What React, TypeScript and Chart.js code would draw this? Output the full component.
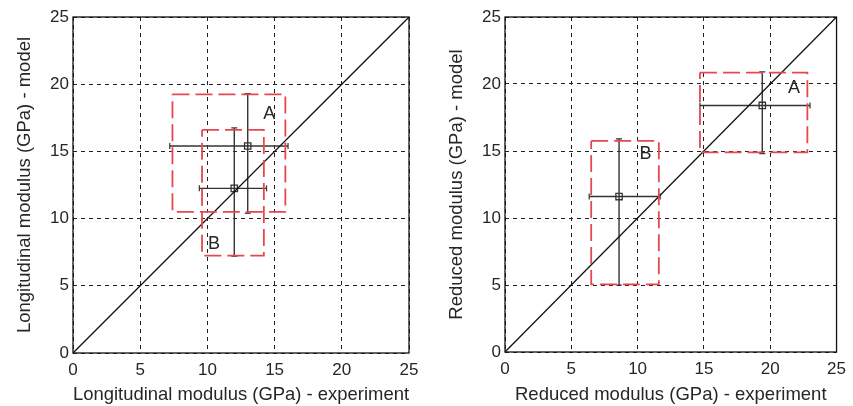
import React, { useEffect, useRef } from 'react';
import { Chart, registerables } from 'chart.js';
Chart.register(...registerables);

// ---- data ----
const axisTicks = [0, 5, 10, 15, 20, 25];
const diagonal = [0, 25];

const groupNames = ['A', 'B'];

// Left panel: Longitudinal modulus
const leftCenterX = [13.0, 12.0];
const leftCenterY = [15.4, 12.25];
const leftXErrLow = [7.2, 9.4];
const leftXErrHigh = [16.0, 14.4];
const leftYErrLow = [10.4, 7.2];
const leftYErrHigh = [19.3, 16.75];
const leftBoxXLow = [7.4, 9.6];
const leftBoxXHigh = [15.8, 14.2];
const leftBoxYLow = [10.5, 7.25];
const leftBoxYHigh = [19.25, 16.6];
const leftLabelX = [14.6, 10.5];
const leftLabelY = [17.8, 8.1];

// Right panel: Reduced modulus
const rightCenterX = [19.4, 8.6];
const rightCenterY = [18.4, 11.6];
const rightXErrLow = [14.7, 6.35];
const rightXErrHigh = [23.0, 11.7];
const rightYErrLow = [14.8, 5.0];
const rightYErrHigh = [20.9, 15.9];
const rightBoxXLow = [14.7, 6.5];
const rightBoxXHigh = [22.8, 11.6];
const rightBoxYLow = [14.9, 5.05];
const rightBoxYHigh = [20.85, 15.75];
const rightLabelX = [21.8, 10.6];
const rightLabelY = [19.7, 14.8];

const FONT = '"Liberation Sans", Arial, sans-serif';
const TEXT = '#262626';
const RED = '#e5484f';

type PanelData = {
  cx: number[]; cy: number[];
  xl: number[]; xh: number[]; yl: number[]; yh: number[];
  bxl: number[]; bxh: number[]; byl: number[]; byh: number[];
  lx: number[]; ly: number[];
};

function buildDatasets(d: PanelData): any[] {
  const ds: any[] = [];
  groupNames.forEach((_, i) => {
    ds.push({
      type: 'line',
      data: [
        { x: d.bxl[i], y: d.byh[i] },
        { x: d.bxh[i], y: d.byh[i] },
        { x: d.bxh[i], y: d.byl[i] },
        { x: d.bxl[i], y: d.byl[i] },
        { x: d.bxl[i], y: d.byh[i] },
      ],
      borderColor: RED,
      borderWidth: 1.8,
      borderDash: [17, 6],
      pointRadius: 0,
      tension: 0,
      fill: false,
    });
  });
  ds.push({
    type: 'line',
    data: [{ x: diagonal[0], y: diagonal[0] }, { x: diagonal[1], y: diagonal[1] }],
    borderColor: '#111',
    borderWidth: 1.3,
    pointRadius: 0,
    fill: false,
  });
  groupNames.forEach((_, i) => {
    ds.push({
      type: 'line',
      data: [{ x: d.xl[i], y: d.cy[i] }, { x: d.xh[i], y: d.cy[i] }],
      borderColor: '#333',
      borderWidth: 1.4,
      pointStyle: 'line',
      pointRotation: 90,
      pointRadius: 3,
      pointBorderColor: '#333',
      pointBorderWidth: 1.2,
      fill: false,
    });
    ds.push({
      type: 'line',
      data: [{ x: d.cx[i], y: d.yl[i] }, { x: d.cx[i], y: d.yh[i] }],
      borderColor: '#333',
      borderWidth: 1.4,
      pointStyle: 'line',
      pointRotation: 0,
      pointRadius: 3,
      pointBorderColor: '#333',
      pointBorderWidth: 1.2,
      fill: false,
    });
  });
  ds.push({
    type: 'scatter',
    data: groupNames.map((_, i) => ({ x: d.cx[i], y: d.cy[i] })),
    pointStyle: 'rect',
    pointRadius: 4.5,
    pointBorderColor: '#333',
    pointBackgroundColor: 'rgba(0,0,0,0)',
    pointBorderWidth: 1.3,
  });
  return ds;
}

type PanelProps = {
  data: PanelData;
  xTitle: string;
  yTitle: string;
  left: number;
  width: number;
  padRight: number;
  yAxisWidth: number;
  xAxisHeight: number;
  yTitlePad: number;
};

function Panel(p: PanelProps) {
  const ref = useRef<HTMLCanvasElement>(null);
  useEffect(() => {
    if (!ref.current) return;
    const d = p.data;
    const frame = {
      id: 'frame',
      beforeDatasetsDraw(chart: any) {
        const { ctx, chartArea: a } = chart;
        ctx.save();
        ctx.strokeStyle = '#111';
        ctx.lineWidth = 1.3;
        ctx.setLineDash([]);
        ctx.strokeRect(a.left, a.top, a.right - a.left, a.bottom - a.top);
        ctx.restore();
      },
    };
    const labels = {
      id: 'groupLabels',
      afterDatasetsDraw(chart: any) {
        const { ctx } = chart;
        const xs = chart.scales.x;
        const ys = chart.scales.y;
        ctx.save();
        ctx.fillStyle = TEXT;
        ctx.font = `18px ${FONT}`;
        ctx.textAlign = 'center';
        ctx.textBaseline = 'middle';
        groupNames.forEach((n, i) => {
          ctx.fillText(n, xs.getPixelForValue(d.lx[i]), ys.getPixelForValue(d.ly[i]));
        });
        ctx.restore();
      },
    };
    const axisCommon = (title: string, isX: boolean) => ({
      type: 'linear',
      min: axisTicks[0],
      max: axisTicks[axisTicks.length - 1],
      afterBuildTicks: (s: any) => {
        s.ticks = axisTicks.map((v) => ({ value: v }));
      },
      ticks: {
        color: TEXT,
        font: { family: FONT, size: 17 },
        padding: isX ? 7 : 4,
        maxRotation: 0,
        autoSkip: false,
      },
      grid: { color: '#222', lineWidth: 1, drawTicks: false },
      border: { display: false, dash: [4, 4] },
      title: {
        display: true,
        text: title,
        color: TEXT,
        font: { family: FONT, size: 18.5 },
        padding: isX ? { top: 0, bottom: 0 } : { top: p.yTitlePad, bottom: 0 },
      },
      afterFit: (s: any) => {
        if (isX) s.height = p.xAxisHeight;
        else s.width = p.yAxisWidth;
      },
    });
    const chart = new Chart(ref.current, {
      type: 'scatter',
      data: { datasets: buildDatasets(d) },
      options: {
        responsive: false,
        animation: false,
        layout: { padding: { left: 0, right: p.padRight, top: 17, bottom: 0 } },
        plugins: { legend: { display: false }, tooltip: { enabled: false } },
        scales: {
          x: axisCommon(p.xTitle, true) as any,
          y: axisCommon(p.yTitle, false) as any,
        },
      },
      plugins: [frame, labels],
    });
    return () => chart.destroy();
  }, []);
  return (
    <canvas
      ref={ref}
      width={p.width}
      height={406}
      style={{ position: 'absolute', left: p.left, top: 0, width: p.width, height: 406 }}
    />
  );
}

export default function App() {
  const leftData: PanelData = {
    cx: leftCenterX, cy: leftCenterY, xl: leftXErrLow, xh: leftXErrHigh,
    yl: leftYErrLow, yh: leftYErrHigh, bxl: leftBoxXLow, bxh: leftBoxXHigh,
    byl: leftBoxYLow, byh: leftBoxYHigh, lx: leftLabelX, ly: leftLabelY,
  };
  const rightData: PanelData = {
    cx: rightCenterX, cy: rightCenterY, xl: rightXErrLow, xh: rightXErrHigh,
    yl: rightYErrLow, yh: rightYErrHigh, bxl: rightBoxXLow, bxh: rightBoxXHigh,
    byl: rightBoxYLow, byh: rightBoxYHigh, lx: rightLabelX, ly: rightLabelY,
  };
  return (
    <div style={{ position: 'fixed', left: 0, top: 0, width: 853, height: 406, background: '#fff', overflow: 'hidden' }}>
      <Panel
        data={leftData}
        xTitle="Longitudinal modulus (GPa) - experiment"
        yTitle="Longitudinal modulus (GPa) - model"
        left={0}
        width={430}
        padRight={21}
        yAxisWidth={73}
        xAxisHeight={53}
        yTitlePad={14}
      />
      <Panel
        data={rightData}
        xTitle="Reduced modulus (GPa) - experiment"
        yTitle="Reduced modulus (GPa) - model"
        left={430}
        width={423}
        padRight={13}
        yAxisWidth={75}
        xAxisHeight={54}
        yTitlePad={16}
      />
    </div>
  );
}
